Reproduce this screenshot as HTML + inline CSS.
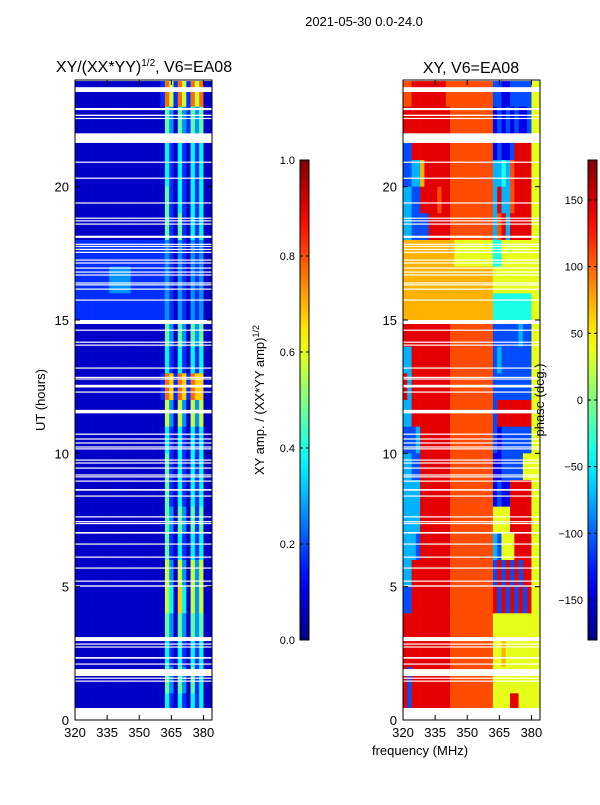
<!DOCTYPE html>
<html><head><meta charset="utf-8"><style>
html,body{margin:0;padding:0;background:#fff;}
svg text{font-family:"Liberation Sans",sans-serif;fill:#000;}
</style></head><body>
<svg id="fig" width="600" height="800" viewBox="0 0 600 800" xmlns="http://www.w3.org/2000/svg">
<text x="364" y="26" font-size="13" text-anchor="middle">2021-05-30 0.0-24.0</text>
<text x="144" y="72" font-size="16" text-anchor="middle">XY/(XX*YY)<tspan font-size="10" dy="-6">1/2</tspan><tspan dy="6">, V6=EA08</tspan></text>
<text x="471" y="73" font-size="16" text-anchor="middle">XY, V6=EA08</text>
<g id="ampPanel"></g>
<g id="phasePanel"></g>
<g id="axes"></g>
<text x="45" y="400" font-size="13" text-anchor="middle" transform="rotate(-90 45 400)">UT (hours)</text>
<text x="420" y="755" font-size="13" text-anchor="middle">frequency (MHz)</text>
<text x="264" y="400" font-size="13" text-anchor="middle" transform="rotate(-90 264 400)">XY amp. / (XX*YY amp)<tspan font-size="9" dy="-5">1/2</tspan></text>
<text x="544" y="400" font-size="13" text-anchor="middle" transform="rotate(-90 544 400)">phase (deg.)</text>
</svg>
<script>
// ---- data ----
const freqMin = 320, freqMax = 384, freqStep = 2;
const hourMin = 0, hourMax = 24;
const xTickLabels = [320, 335, 350, 365, 380];
const yTickLabels = [0, 5, 10, 15, 20];
const ampTicks = [0.0, 0.2, 0.4, 0.6, 0.8, 1.0];
const phaseTicks = [-150, -100, -50, 0, 50, 100, 150];
// amplitude rows, hour 23 down to hour 0; digit d -> amp d/10
const ampRows = [
"11111111111111111111286286286811",
"11111111111111111111153153253511",
"11111111111111111111142142142411",
"11111111111111111111142142142411",
"11111111111111111111152142142411",
"11111111111111111111152152142411",
"22222222222222222222232132132311",
"22222222333332222222232132132311",
"22222222222222222222232132132311",
"11111111111111111111153153153511",
"11111111111111111111142142142411",
"11111111111111111111287287287711",
"11111111111111111111163163163611",
"11111111111111111111142142142411",
"11111111111111111111152142142411",
"11111111111111111111152142142411",
"11111111111111111111153153152511",
"11111111111111111111152142142411",
"11111111111111111111163163163611",
"11111111111111111111164174163611",
"11111111111111111111153153153511",
"11111111111111111111142142142411",
"11111111111111111111153153152411",
"11111111111111111111142142142411"
];
// phase rows, hour 23 down to 0; digit d -> phase -180 + 36*d
const phaseRows = [
"889999999988888888888221122222" + "66",
"999999999998888888888121212112" + "66",
"229999999998888888888121129999" + "66",
"223379999998888888888334389999" + "66",
"332299998998888888888393389999" + "66",
"332222999998888888888389399999" + "66",
"777777777777666666666446666666" + "66",
"777777777777777777777666666666" + "66",
"777777777777777777777444444444" + "66",
"999999999998888888888222222322" + "66",
"339999999998888888888232222222" + "66",
"939999999998888888888222222222" + "66",
"339999999998888888888299999999" + "66",
"222399999998888888888212222222" + "66",
"332299999998888888888112222266" + "66",
"333399999998888888888121199999" + "66",
"333399999998888888888666699999" + "66",
"333299999998888888888326669999" + "66",
"339999999998888888888292929299" + "66",
"229999999998888888888929292929" + "66",
"999999999998888888888666666666" + "66",
"999999999998888888888667666666" + "66",
"929999999998888888888666666666" + "66",
"929999999998888888888666699666" + "66"
];
// flagged (blank) time ranges in hours [start, end]
const gapStart = [23.55,22.87,22.65,22.54,21.64,20.90,20.30,19.37,18.80,18.70,18.58,18.08,17.82,17.74,17.63,17.52,17.23,17.12,16.93,16.78,16.67,16.37,16.30,16.14,15.73,14.85,14.60,14.15,14.04,13.18,12.83,12.77,12.47,12.28,11.50,10.70,10.52,10.37,10.22,10.15,9.73,9.62,9.43,9.17,9.10,8.94,8.60,8.38,7.60,7.42,7.35,6.99,6.58,6.09,5.68,5.19,5.00,2.96,2.83,2.72,2.30,2.08,1.65,1.55,1.44,0.00];
const gapEnd   = [23.73,22.95,22.70,22.58,22.00,20.94,20.34,19.41,18.84,18.74,18.62,18.16,17.86,17.78,17.67,17.56,17.27,17.16,16.97,16.82,16.71,16.41,16.34,16.18,15.77,15.00,14.64,14.19,14.08,13.22,12.87,12.81,12.57,12.32,11.63,10.74,10.56,10.41,10.26,10.19,9.77,9.66,9.47,9.21,9.14,8.98,8.66,8.42,7.64,7.46,7.39,7.05,6.62,6.13,5.72,5.23,5.05,3.11,2.87,2.76,2.36,2.12,1.91,1.59,1.48,0.45];

// ---- helpers ----
const NS = "http://www.w3.org/2000/svg";
function jet(v){ v=Math.max(0,Math.min(1,v));
  const c=t=>Math.round(255*Math.max(0,Math.min(1,1.5-Math.abs(t))));
  return `rgb(${c(4*v-3)},${c(4*v-2)},${c(4*v-1)})`; }
function mk(tag, attrs, parent){ const e=document.createElementNS(NS,tag);
  for(const k in attrs) e.setAttribute(k, attrs[k]); parent.appendChild(e); return e; }
const panels = [{x0:75,x1:212,g:'ampPanel',rows:ampRows,val:d=>Math.max(0,d/10-0.03),name:'amp'},
                {x0:403,x1:540,g:'phasePanel',rows:phaseRows,val:d=>((-180+36*d)+180)/360,name:'phase'}];
const yTop=80, yBot=720;
const yScale = h => yBot - (h-hourMin)/(hourMax-hourMin)*(yBot-yTop);
const svg=document.getElementById('fig');
const axes=document.getElementById('axes');

panels.forEach(p=>{
  const xScale = f => p.x0 + (f-freqMin)/(freqMax-freqMin)*(p.x1-p.x0);
  const g=document.getElementById(p.g);
  p.rows.forEach((row,ri)=>{
    const h = 23-ri;
    for(let k=0;k<row.length;k++){
      const f=freqMin+k*freqStep;
      const x=xScale(f), w=xScale(f+freqStep)-x;
      const y=yScale(h+1), hh=yScale(h)-y;
      const r=mk('rect',{x:x.toFixed(2),y:y.toFixed(2),width:(w+0.3).toFixed(2),height:(hh+0.3).toFixed(2),fill:jet(p.val(+row[k]))},g);
      
      
    }
  });
  gapStart.forEach((s,i)=>{
    const y=yScale(gapEnd[i]), hh=Math.max(1.2,yScale(s)-y);
    const r=mk('rect',{x:p.x0,y:y.toFixed(2),width:p.x1-p.x0,height:hh.toFixed(2),fill:'#fff'},g);
    
    
  });
  mk('rect',{x:p.x0,y:yTop,width:p.x1-p.x0,height:yScale(23.96)-yTop,fill:'#fff'},g);
  const fr=mk('rect',{x:p.x0,y:yTop,width:p.x1-p.x0,height:yBot-yTop,fill:'none',stroke:'#000','stroke-width':1},axes);
  
  
  xTickLabels.forEach(t=>{
    const x=xScale(t);
    mk('line',{x1:x,x2:x,y1:yBot,y2:yBot-5,stroke:'#000'},axes);
    mk('line',{x1:x,x2:x,y1:yTop,y2:yTop+5,stroke:'#000'},axes);
    const tx=mk('text',{x:x,y:yBot+17,'font-size':13,'text-anchor':'middle'},axes);
    tx.textContent=t;
    
    
  });
  yTickLabels.forEach(t=>{
    const y=yScale(t);
    mk('line',{x1:p.x0,x2:p.x0+5,y1:y,y2:y,stroke:'#000'},axes);
    mk('line',{x1:p.x1,x2:p.x1-5,y1:y,y2:y,stroke:'#000'},axes);
    const tx=mk('text',{x:p.x0-6,y:y+5,'font-size':13,'text-anchor':'end'},axes);
    tx.textContent=t;
    
    
  });
});

// colorbars
const defs=mk('defs',{},svg);
const grad=mk('linearGradient',{id:'jetg',x1:0,y1:1,x2:0,y2:0},defs);
for(let i=0;i<=20;i++) mk('stop',{offset:i/20,'stop-color':jet(i/20)},grad);
const cbs=[{x:300,ticks:ampTicks,min:0,max:1,fmt:t=>t.toFixed(1),name:'amp'},
           {x:588,ticks:phaseTicks,min:-180,max:180,fmt:t=>t<0?'\u2212'+(-t):''+t,name:'phase'}];
cbs.forEach(c=>{
  const r=mk('rect',{x:c.x,y:160,width:9,height:480,fill:'url(#jetg)',stroke:'#000','stroke-width':1},svg);
  
  
  c.ticks.forEach(t=>{
    const y=640-(t-c.min)/(c.max-c.min)*480;
    mk('line',{x1:c.x,x2:c.x+3,y1:y,y2:y,stroke:'#000'},svg);
    mk('line',{x1:c.x+9,x2:c.x+6,y1:y,y2:y,stroke:'#000'},svg);
    const tx=mk('text',{x:c.x-5,y:y+4,'font-size':11,'text-anchor':'end'},svg);
    tx.textContent=c.fmt(t);
    
    
  });
});
</script>
</body></html>
